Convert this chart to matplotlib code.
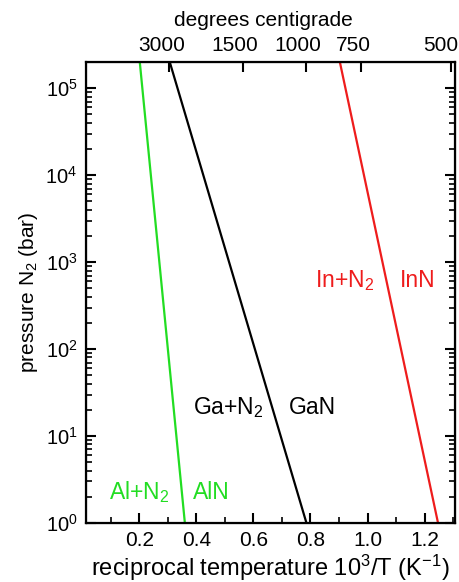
import numpy as np
import matplotlib
matplotlib.use('Agg')
import matplotlib.pyplot as plt
from matplotlib.ticker import MultipleLocator, LogLocator
from matplotlib.transforms import ScaledTranslation

plt.rcParams['font.family'] = ['Liberation Sans', 'DejaVu Sans']
plt.rcParams['mathtext.fontset'] = 'custom'
plt.rcParams['mathtext.rm'] = 'Liberation Sans'
plt.rcParams['mathtext.it'] = 'Liberation Sans'
plt.rcParams['mathtext.default'] = 'regular'

# equilibrium lines: reciprocal temperature 10^3/T (1/K) vs N2 pressure (bar)
aln_x = [0.360, 0.202]
aln_p = [1.0, 2.0e5]
gan_x = [0.786, 0.307]
gan_p = [1.0, 2.0e5]
inn_x = [1.247, 0.903]
inn_p = [1.0, 2.0e5]

top_celsius = [3000, 1500, 1000, 750, 500]

fig = plt.figure(figsize=(4.59, 5.82), dpi=100)
ax = fig.add_axes([0.187, 0.1014, 0.804, 0.7921])

ax.plot(aln_x, aln_p, color='#22dd22', lw=1.6)
ax.plot(gan_x, gan_p, color='black', lw=1.6)
ax.plot(inn_x, inn_p, color='#ee1c1c', lw=1.6)

ax.set_yscale('log')
ax.set_xlim(0.013, 1.306)
ax.set_ylim(1, 2e5)

fs = 16.5
ax.text(0.094, 2.27, 'Al+N$_2$', color='#22dd22', fontsize=fs, va='center')
ax.text(0.388, 2.27, 'AlN', color='#22dd22', fontsize=fs, va='center')
ax.text(0.388, 21.5, 'Ga+N$_2$', color='black', fontsize=fs, va='center')
ax.text(0.725, 21.5, 'GaN', color='black', fontsize=fs, va='center')
ax.text(0.816, 620, 'In+N$_2$', color='#ee1c1c', fontsize=fs, va='center')
ax.text(1.114, 620, 'InN', color='#ee1c1c', fontsize=fs, va='center')

ax.xaxis.set_major_locator(MultipleLocator(0.2))
ax.xaxis.set_minor_locator(MultipleLocator(0.1))
ax.xaxis.set_major_formatter(plt.FormatStrFormatter('%.1f'))
ax.yaxis.set_major_locator(LogLocator(base=10, numticks=10))
ax.yaxis.set_minor_locator(LogLocator(base=10, subs=np.arange(2, 10), numticks=20))

ax.tick_params(which='both', direction='in', top=False, right=True)
ax.tick_params(which='major', length=7, width=1.5)
ax.tick_params(which='minor', length=4, width=1.2)
ax.tick_params(axis='x', labelsize=15, pad=6)
ax.tick_params(axis='y', labelsize=14.5, pad=6)
for s in ax.spines.values():
    s.set_linewidth(1.6)

ax.set_xlabel('reciprocal temperature 10$^3$/T (K$^{-1}$)', fontsize=17, labelpad=2)
ax.set_ylabel('pressure N$_2$ (bar)', fontsize=15, labelpad=4)

# top axis in degrees centigrade
top = ax.twiny()
top.set_xlim(ax.get_xlim())
top.set_xticks([1000.0 / (c + 273.15) for c in top_celsius])
top.set_xticklabels([str(c) for c in top_celsius])
top.tick_params(direction='in', length=7, width=1.5, labelsize=15, pad=5)
labs = top.get_xticklabels()
for i, lab in enumerate(labs):
    dx = -11 if i == len(labs) - 1 else -8
    lab.set_transform(lab.get_transform() + ScaledTranslation(dx / 100, 0, fig.dpi_scale_trans))
top.set_xlabel('degrees centigrade', fontsize=15, labelpad=5)
top.xaxis.set_label_coords(0.48, 1.078)

fig.savefig('out.png', dpi=100)
